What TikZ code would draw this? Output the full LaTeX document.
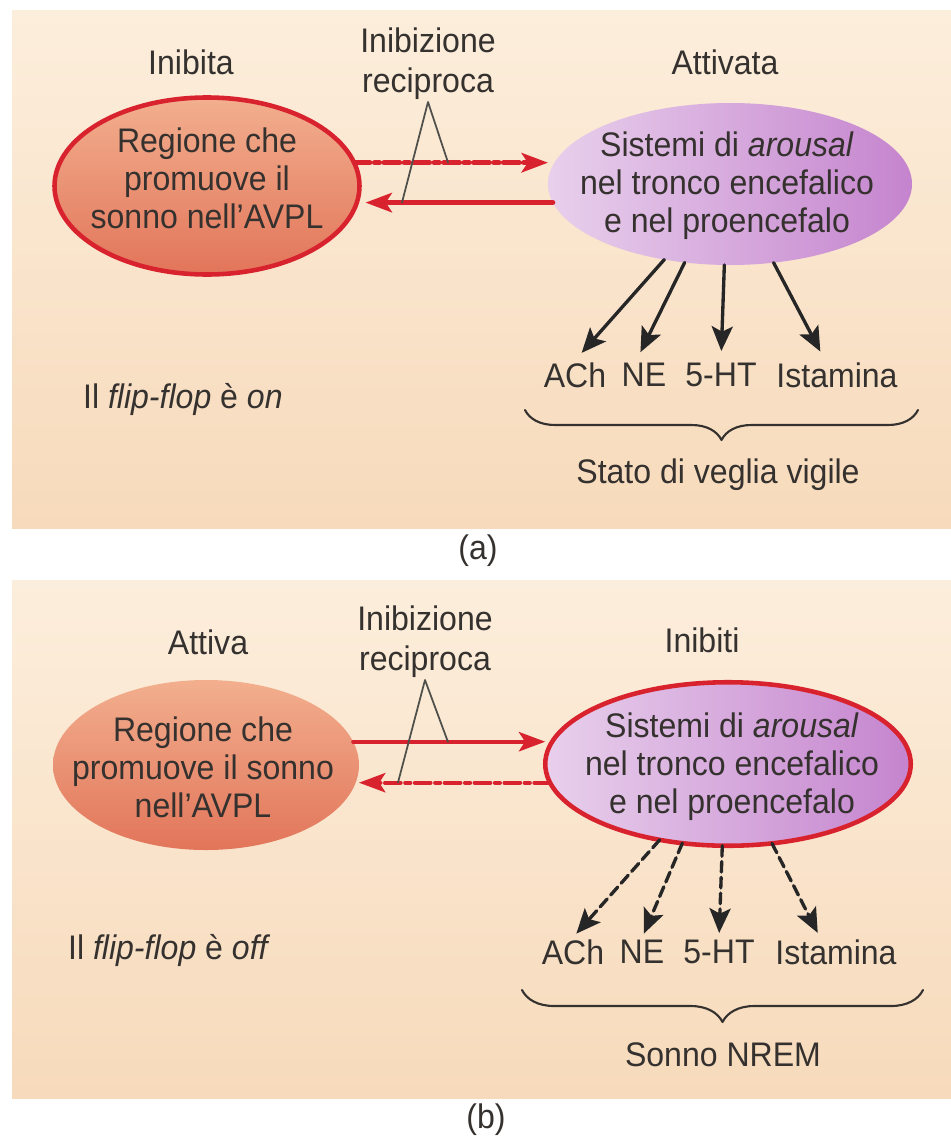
\documentclass[tikz,border=0pt]{standalone}
\usepackage{fontspec}
\setmainfont{Liberation Sans}[FakeStretch=0.94]
\usetikzlibrary{arrows.meta,calc,shapes.geometric,decorations.pathreplacing}

\definecolor{flipred}{HTML}{D8232E}
\definecolor{inkgray}{HTML}{35312F}
\definecolor{caretgray}{HTML}{4F504B}
\definecolor{paneltop}{HTML}{FCEEDC}
\definecolor{panelbot}{HTML}{F7DABB}
\definecolor{sleeptop}{HTML}{F2AF8E}
\definecolor{sleepbot}{HTML}{E2755A}
\definecolor{wakeleft}{HTML}{E8D0EC}
\definecolor{wakeright}{HTML}{C584CE}

\begin{document}
\begin{tikzpicture}[
  line cap=round,
  line join=round,
  every node/.style={font=\fontsize{19.4}{21.6}\selectfont, text=inkgray, inner sep=1pt},
  panel/.style={top color=paneltop, bottom color=panelbot},
  region/.style={ellipse, inner sep=0pt, outer sep=0pt},
  sleepzone/.style={region, top color=sleeptop, bottom color=sleepbot},
  wakezone/.style={region, left color=wakeleft, right color=wakeright},
  inhibited/.style={draw=flipred, line width=2.6pt},
  blurb/.style={align=center},
  twoline/.style={align=center, font=\fontsize{19.4}{22.8}\selectfont},
  inhib/.style={draw=flipred, line width=2.8pt, -{Stealth[length=15pt,width=11pt,inset=3.5pt]}},
  weak/.style={dash pattern=on 9pt off 2.5pt on 3pt off 2.5pt},
  drive/.style={draw=black!85, line width=1.9pt, -{Stealth[length=14pt,width=12pt,inset=3pt]}},
  quiet/.style={dash pattern=on 6pt off 3pt},
  caret/.style={draw=caretgray, line width=1pt},
  curly/.style={draw=inkgray, line width=1.2pt, decorate, decoration={brace, amplitude=#1}}
]

\useasboundingbox (0,0) rectangle (19.02,-22.80);
\fill[white] (0,0) rectangle (19.02,-22.80);

% ------------------------------------------------------------------
% (a) flip-flop on
% ------------------------------------------------------------------
\begin{scope}
  \fill[panel] (0.24,-0.20) rectangle (19.02,-10.56);

  \node (stateA1) at (3.82,-1.24) {Inibita};
  \node (stateA2) at (14.50,-1.24) {Attivata};
  \node[twoline, anchor=south] (recipA) at (8.56,-2.04) {Inibizione\\reciproca};

  \node[sleepzone, inhibited, minimum width=6.10cm, minimum height=3.54cm] (sleepA) at (4.14,-3.72) {};
  \node[blurb] (sleepAtxt) at (4.14,-3.57) {Regione che\\promuove il\\sonno nell’AVPL};

  \node[wakezone, minimum width=7.28cm, minimum height=3.24cm] (wakeA) at (14.60,-3.68) {};
  \node[blurb] (wakeAtxt) at (14.54,-3.72) {Sistemi di \textit{arousal}\\nel tronco encefalico\\e nel proencefalo};

  \draw[inhib, weak] (sleepA.9) -- (sleepA.9 -| wakeA.west);
  \draw[inhib, shorten >=0.12cm] (wakeA.186) -- (wakeA.186 -| sleepA.east);

  \coordinate (legA1) at (8.04,-4.05);
  \coordinate (legA2) at (8.96,-3.25);
  \draw[caret] (legA1) -- (recipA.south) -- (legA2);

  \node (achA) at (11.50,-7.50) {ACh};
  \node (neA) at (12.88,-7.50) {NE};
  \node (htA) at (14.42,-7.50) {5-HT};
  \node (istA) at (16.74,-7.50) {Istamina};

  \draw[drive, shorten >=0.2cm] (wakeA.229) -- (achA.north);
  \draw[drive, shorten >=0.2cm] (wakeA.240) -- ($(neA.north)+(-0.16,0)$);
  \draw[drive, shorten >=0.2cm] (wakeA.266) -- (htA.north);
  \draw[drive, shorten >=0.2cm] (wakeA.299) -- ($(istA.north)+(-0.24,0)$);

  \draw[curly=0.6cm] (18.36,-8.20) -- (10.50,-8.20);
  \node (moodA) at (14.36,-9.50) {Stato di veglia vigile};

  \node[anchor=west] (switchA) at (1.62,-7.98) {Il \textit{flip-flop} è \textit{on}};
  \node (tagA) at (9.56,-11.02) {(a)};
\end{scope}

% ------------------------------------------------------------------
% (b) flip-flop off
% ------------------------------------------------------------------
\begin{scope}[yshift=-11.40cm]
  \fill[panel] (0.24,-0.20) rectangle (19.02,-10.56);

  \node (stateB1) at (4.16,-1.44) {Attiva};
  \node (stateB2) at (14.04,-1.40) {Inibiti};
  \node[twoline, anchor=south] (recipB) at (8.50,-2.20) {Inibizione\\reciproca};

  \node[sleepzone, minimum width=6.12cm, minimum height=3.40cm] (sleepB) at (4.12,-3.90) {};
  \node[blurb] (sleepBtxt) at (4.06,-3.95) {Regione che\\promuove il sonno\\nell’AVPL};

  \node[wakezone, inhibited, minimum width=7.31cm, minimum height=3.27cm] (wakeB) at (14.56,-3.88) {};
  \node[blurb] (wakeBtxt) at (14.64,-3.94) {Sistemi di \textit{arousal}\\nel tronco encefalico\\e nel proencefalo};

  \draw[inhib, line width=2.2pt] (sleepB.9) -- (sleepB.9 -| wakeB.west);
  \draw[inhib, weak, line width=2.2pt] (wakeB.186) -- (wakeB.186 -| sleepB.east);

  \coordinate (legB1) at (7.96,-4.25);
  \coordinate (legB2) at (8.96,-3.44);
  \draw[caret] (legB1) -- (recipB.south) -- (legB2);

  \node (achB) at (11.46,-7.64) {ACh};
  \node (neB) at (12.84,-7.64) {NE};
  \node (htB) at (14.38,-7.64) {5-HT};
  \node (istB) at (16.72,-7.64) {Istamina};

  \draw[drive, quiet, shorten >=0.1cm] (wakeB.228) -- (achB.north);
  \draw[drive, quiet, shorten >=0.1cm] (wakeB.240) -- (neB.north);
  \draw[drive, quiet, shorten >=0.1cm] (wakeB.266) -- (htB.north);
  \draw[drive, quiet, shorten >=0.1cm] (wakeB.299) -- ($(istB.north)+(-0.32,0)$);

  \draw[curly=0.64cm] (18.46,-8.40) -- (10.44,-8.40);
  \node (moodB) at (14.46,-9.70) {Sonno NREM};

  \node[anchor=west] (switchB) at (1.32,-7.60) {Il \textit{flip-flop} è \textit{off}};
  \node (tagB) at (9.72,-11.00) {(b)};
\end{scope}

\end{tikzpicture}
\end{document}
